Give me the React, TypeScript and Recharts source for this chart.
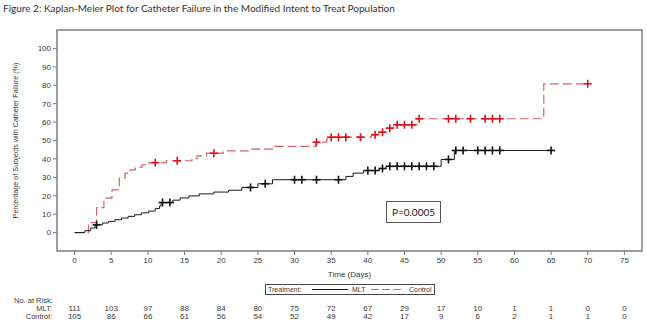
import React from "react";
import {
  ComposedChart,
  Line,
  Scatter,
  XAxis,
  YAxis,
  ReferenceArea,
} from "recharts";

// Kaplan-Meier step points: [day, cumulative % failed]
const mltSteps: [number, number][] = [
  [0, 0], [1.4, 1], [2.2, 2.5], [2.8, 4.2], [3.8, 5.2], [4.6, 6.1], [5.5, 7],
  [6.4, 7.9], [7.3, 8.8], [8.2, 9.7], [9.1, 10.7], [10.1, 11.7], [11.0, 13.1],
  [11.6, 14.5], [11.8, 16.3], [13.4, 17.6], [14.4, 18.8], [15.6, 19.9],
  [17, 21], [19, 22], [21, 23], [22.8, 24.5], [25, 26.5], [27, 28.7],
  [37, 30.5], [38, 32.3], [39.4, 33.7], [41.6, 34.8], [42.5, 36], [50, 39.7],
  [51.8, 44.6], [65, 44.6],
];
const controlSteps: [number, number][] = [
  [0, 0], [1.9, 5.4], [3, 13.6], [4, 18.7], [5.1, 23.2], [6.1, 29.6],
  [6.9, 32.3], [7.6, 34], [8.3, 35.5], [9.2, 36.8], [10.2, 38], [12.5, 39],
  [16, 40.2], [16.7, 41.7], [18, 43.1], [20.3, 44.4], [24, 45.3], [27, 46.8],
  [32.9, 49.1], [34.4, 50.7], [34.9, 51.8], [40.5, 53.1], [41.5, 54.5],
  [42.5, 56.7], [43.5, 58.5], [46.7, 61.8], [64, 80.8], [70, 80.8],
];

// Censored observations: [day, % at censoring]
const mltCensored: [number, number][] = [
  [3, 4.2], [12, 16.3], [13, 16.3], [24, 24.5], [26, 26.5], [30, 28.7],
  [31, 28.7], [33, 28.7], [36, 28.7], [40, 33.7], [41, 33.7], [42, 34.8],
  [43, 36], [44, 36], [45, 36], [46, 36], [47, 36], [48, 36], [49, 36],
  [51, 39.7], [52, 44.6], [53, 44.6], [55, 44.6], [56, 44.6], [57, 44.6],
  [58, 44.6], [65, 44.6],
];
const controlCensored: [number, number][] = [
  [11, 38], [14, 39], [19, 43.1], [33, 49.1], [35, 51.8], [36, 51.8],
  [37, 51.8], [39, 51.8], [41, 53.1], [42, 54.5], [43, 56.7], [44, 58.5],
  [45, 58.5], [46, 58.5], [47, 61.8], [51, 61.8], [52, 61.8], [54, 61.8],
  [56, 61.8], [57, 61.8], [58, 61.8], [70, 80.8],
];

// Axis ticks and number at risk per tick
const timeTicks = [0, 5, 10, 15, 20, 25, 30, 35, 40, 45, 50, 55, 60, 65, 70, 75];
const pctTicks = [0, 10, 20, 30, 40, 50, 60, 70, 80, 90, 100];
const mltAtRisk = [111, 103, 97, 88, 84, 80, 75, 72, 67, 29, 17, 10, 1, 1, 0, 0];
const controlAtRisk = [105, 86, 66, 61, 56, 54, 52, 49, 42, 17, 9, 6, 2, 1, 1, 0];

const pValueText = "P=0.0005";

const toPoints = (arr: [number, number][]) => arr.map(([t, p]) => ({ t, p }));

const X_DOMAIN: [number, number] = [-2.4, 77.4];
const Y_DOMAIN: [number, number] = [-10, 110];

const FRAME = "#7d7d7d";
const TEXT = "#3a3a3a";
const RED_LINE = "#d4636f";
const RED_MARK = "#e0101c";
const FONT = "'Liberation Sans', Arial, sans-serif";

const plusShape = (color: string) => (props: any) => {
  const { cx, cy } = props;
  if (cx == null || cy == null) return <g />;
  const r = 4;
  return (
    <g stroke={color} strokeWidth={1.6}>
      <line x1={cx - r} y1={cy} x2={cx + r} y2={cy} />
      <line x1={cx} y1={cy - r} x2={cx} y2={cy + r} />
    </g>
  );
};

const atRiskFormatter = (values: number[]) => (v: number) => {
  const i = timeTicks.indexOf(v);
  return i >= 0 ? String(values[i]) : "";
};

// Row header drawn just left of the plot area, level with the row's numbers
const rowHeader = (text: string) => (props: any) => {
  const vb = props.viewBox || {};
  const x = (vb.x ?? 0) - 5;
  const y = (vb.y ?? 0) + 5.7;
  return (
    <text x={x} y={y} textAnchor="end" fontSize={7.5} fill={TEXT} fontFamily={FONT}>
      {text}
    </text>
  );
};

export default function App() {
  return (
    <div
      style={{
        position: "absolute",
        left: 0,
        top: 0,
        width: 647,
        height: 320,
        background: "#fff",
        fontFamily: FONT,
        overflow: "hidden",
      }}
    >
      <div
        style={{
          position: "absolute",
          left: 3,
          top: 2,
          fontFamily: "Lato, 'Open Sans', sans-serif",
          fontSize: 10,
          color: "#333",
          whiteSpace: "nowrap",
        }}
      >
        Figure 2: Kaplan-Meier Plot for Catheter Failure in the Modified Intent to Treat Population
      </div>

      <div style={{ position: "absolute", left: 0, top: 0 }}>
        <ComposedChart
          width={647}
          height={320}
          margin={{ top: 30, right: 5, bottom: 0, left: 0 }}
        >
          <XAxis
            xAxisId="a"
            dataKey="t"
            type="number"
            domain={X_DOMAIN}
            ticks={timeTicks}
            allowDataOverflow
            height={54}
            stroke={FRAME}
            tickSize={4}
            tickMargin={2}
            tick={{ fontSize: 8, fill: TEXT, fontFamily: FONT }}
            tickLine={{ stroke: FRAME }}
            axisLine={false}
            label={{
              value: "Time (Days)",
              position: "insideTop",
              offset: 20,
              fontSize: 8,
              fill: TEXT,
              fontFamily: FONT,
            }}
          />
          <XAxis
            xAxisId="b"
            dataKey="t"
            type="number"
            domain={X_DOMAIN}
            ticks={timeTicks}
            allowDataOverflow
            height={8}
            axisLine={false}
            tickLine={false}
            tickSize={0}
            tickMargin={0}
            tickFormatter={atRiskFormatter(mltAtRisk)}
            tick={{ fontSize: 8, fill: TEXT, fontFamily: FONT }}
            label={rowHeader("MLT:")}
          />
          <XAxis
            xAxisId="c"
            dataKey="t"
            type="number"
            domain={X_DOMAIN}
            ticks={timeTicks}
            allowDataOverflow
            height={7}
            axisLine={false}
            tickLine={false}
            tickSize={0}
            tickMargin={0}
            tickFormatter={atRiskFormatter(controlAtRisk)}
            tick={{ fontSize: 8, fill: TEXT, fontFamily: FONT }}
            label={rowHeader("Control:")}
          />
          <YAxis
            dataKey="p"
            type="number"
            domain={Y_DOMAIN}
            ticks={pctTicks}
            allowDataOverflow
            width={57}
            tickSize={4}
            tickMargin={2}
            axisLine={false}
            tickLine={{ stroke: FRAME }}
            tick={{ fontSize: 8, fill: TEXT, fontFamily: FONT }}
            label={(props: any) => {
              const vb = props.viewBox || {};
              const x = (vb.x ?? 0) + 15;
              const y = (vb.y ?? 0) + (vb.height ?? 0) / 2;
              return (
                <text
                  x={x}
                  y={y}
                  transform={`rotate(-90, ${x}, ${y})`}
                  textAnchor="middle"
                  dominantBaseline="central"
                  fontSize={7.2}
                  fill={TEXT}
                  fontFamily={FONT}
                >
                  Percentage of Subjects with Catheter Failure (%)
                </text>
              );
            }}
          />

          <ReferenceArea
            xAxisId="a"
            x1={X_DOMAIN[0]}
            x2={X_DOMAIN[1]}
            y1={Y_DOMAIN[0]}
            y2={Y_DOMAIN[1]}
            fill="none"
            fillOpacity={0}
            stroke={FRAME}
            strokeWidth={1.5}
          />

          <Line
            xAxisId="a"
            data={toPoints(controlSteps)}
            dataKey="p"
            type="stepAfter"
            stroke={RED_LINE}
            strokeWidth={1.2}
            strokeDasharray="9 4"
            dot={false}
            activeDot={false}
            isAnimationActive={false}
          />
          <Line
            xAxisId="a"
            data={toPoints(mltSteps)}
            dataKey="p"
            type="stepAfter"
            stroke="#1a1a1a"
            strokeWidth={1}
            dot={false}
            activeDot={false}
            isAnimationActive={false}
          />
          <Scatter
            xAxisId="a"
            data={toPoints(controlCensored)}
            dataKey="p"
            shape={plusShape(RED_MARK)}
            isAnimationActive={false}
          />
          <Scatter
            xAxisId="a"
            data={toPoints(mltCensored)}
            dataKey="p"
            shape={plusShape("#111")}
            isAnimationActive={false}
          />
        </ComposedChart>
      </div>

      {/* p-value annotation */}
      <div
        style={{
          position: "absolute",
          left: 386,
          top: 201,
          width: 53,
          height: 20,
          border: "1px solid #555",
          fontSize: 10,
          fontFamily: "Lato, 'Open Sans', sans-serif",
          color: "#222",
          display: "flex",
          alignItems: "center",
          justifyContent: "center",
        }}
      >
        {pValueText}
      </div>

      {/* legend */}
      <div
        style={{
          position: "absolute",
          left: 265,
          top: 284,
          width: 168,
          height: 9,
          border: "1px solid #444",
          fontSize: 7,
          lineHeight: "9px",
          color: TEXT,
          whiteSpace: "nowrap",
        }}
      >
        <span style={{ position: "absolute", left: 2, top: 0 }}>Treatment:</span>
        <svg width={36} height={9} style={{ position: "absolute", left: 46, top: 0 }}>
          <line x1={0} y1={4.5} x2={36} y2={4.5} stroke="#1a1a1a" strokeWidth={1} />
        </svg>
        <span style={{ position: "absolute", left: 86, top: 0 }}>MLT</span>
        <svg width={32} height={9} style={{ position: "absolute", left: 105, top: 0 }}>
          <line x1={0} y1={4.5} x2={32} y2={4.5} stroke={RED_LINE} strokeWidth={1.2} strokeDasharray="8 3" />
        </svg>
        <span style={{ position: "absolute", left: 143, top: 0 }}>Control</span>
      </div>

      {/* at-risk table heading */}
      <div
        style={{
          position: "absolute",
          left: 14,
          top: 297,
          fontSize: 7.5,
          lineHeight: "7px",
          color: TEXT,
          whiteSpace: "nowrap",
        }}
      >
        No. at Risk:
      </div>
    </div>
  );
}
